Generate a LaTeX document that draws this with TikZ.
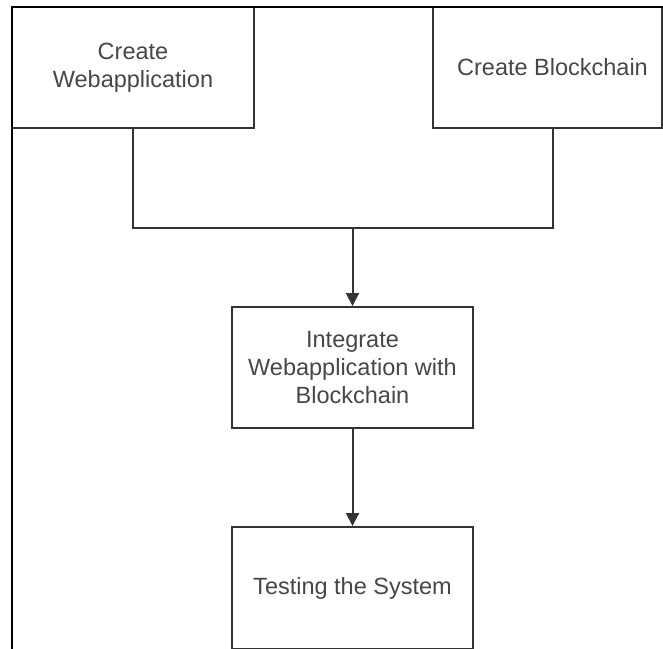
\documentclass[tikz,border=0pt]{standalone}
\usepackage{fontspec}
\setmainfont{Liberation Sans}
\usetikzlibrary{arrows.meta}
\begin{document}
\begin{tikzpicture}[x=1pt,y=-1pt,
  box/.style={draw=black!80, line width=2pt, fill=white, align=center,
    font=\fontsize{23.5}{28}\selectfont, text=black!72, inner sep=0pt,
    minimum height=121pt},
  conn/.style={draw=black!80, line width=2pt},
  arr/.style={conn, -{Triangle[width=13pt,length=13pt]}}]
\useasboundingbox (0,0) rectangle (663,648);
\node[box, minimum width=242pt] (lb) at (133,67.5) {Create\\Webapplication};
\node[box, minimum width=229pt] (rb) at (547.5,67.5) {\hspace*{10pt}Create Blockchain};
\node[box, minimum width=241pt] (mb) at (352.5,367.5) {Integrate\\Webapplication with\\Blockchain};
\node[box, minimum width=241pt, minimum height=122pt] (bb) at (352.5,588) {Testing the System};
\coordinate (rbs) at ([xshift=5.5pt]rb.south);
\coordinate (j) at (mb.north |- 0,228);
\draw[conn] (lb.south) -- (lb.south |- j) -- (rbs |- j) -- (rbs);
\draw[arr] (j) -- (mb.north);
\draw[arr] (mb.south) -- (bb.north);
\draw[black, line width=2.6pt] (12,650) -- (12,7) -- (665,7);
\end{tikzpicture}
\end{document}
